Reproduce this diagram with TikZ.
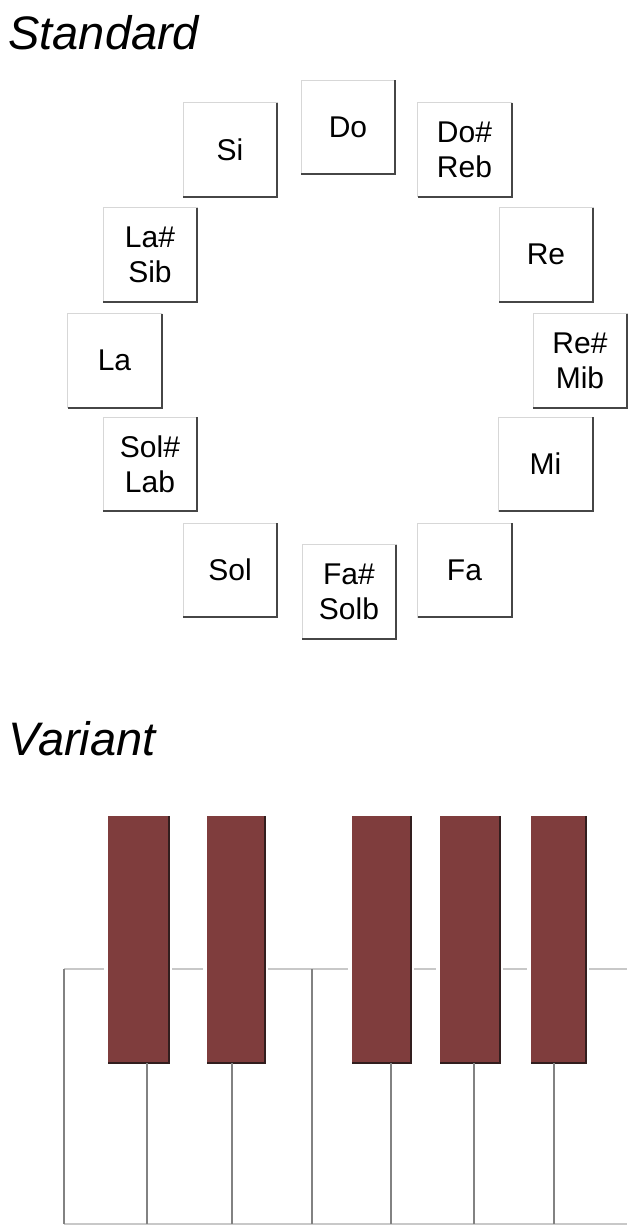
\documentclass[tikz,border=0pt]{standalone}
\usepackage{fontspec}
\setmainfont{Liberation Sans}
\usepackage{tikz}
\definecolor{btnlight}{RGB}{215,215,215}
\definecolor{btndark}{RGB}{70,70,70}
\definecolor{keyred}{RGB}{127,61,61}
\definecolor{keyedge}{RGB}{50,30,30}
\definecolor{keyline}{RGB}{130,130,130}
\definecolor{rimline}{RGB}{200,200,200}
\newcommand{\drawrim}{\draw[rimline, line width=0.6pt]}
\newcommand{\drawsplit}{\draw[keyline, line width=1.2pt]}
\tikzset{
  notebtn/.style={draw=btnlight, line width=0.5pt, fill=white, inner sep=0pt, outer sep=0pt,
    minimum width=47pt, minimum height=47pt, align=center,
    font=\fontsize{15}{17.5}\selectfont},
  btnshade/.style={btndark, line width=1pt},
  heading/.style={anchor=base west, inner sep=0pt, font=\fontsize{23.5}{28}\selectfont\itshape}
}

\begin{document}
\begin{tikzpicture}[x=0.5pt, y=-0.5pt]
\useasboundingbox (0,0) rectangle (627,1226);
\node[heading] (std) at (8,49) {Standard};
\node[heading] (var) at (8,755) {Variant};
% circle of notes
\foreach \n/\x/\y/\t in {do/348/127/Do, dos/464.5/149.5/{Do\#\\Reb}, re/546/254.5/Re,
    res/580/360.5/{Re\#\\Mib}, mi/545.5/464/Mi, fa/464.5/570/Fa, fas/349/591.5/{Fa\#\\Solb},
    sol/230/570/Sol, sols/150/464/{Sol\#\\Lab}, la/114.5/360.5/La, las/150/254.5/{La\#\\Sib},
    si/230/149.5/Si}{
  \node[notebtn] (\n) at (\x,\y) {\t};
  \draw[btnshade] (\n.north east) -- (\n.south east) -- (\n.south west);
}
% keyboard
\drawrim (64,969)--(104,969);
\drawrim (172,969)--(203,969);
\drawrim (268,969)--(348,969);
\drawrim (414,969)--(436,969);
\drawrim (503,969)--(527,969);
\drawrim (589,969)--(627,969);
\drawrim (64,1224)--(627,1224);
\drawsplit (64,969)--(64,1224);
\drawsplit (312,969)--(312,1224);
\foreach \a/\b in {108/169, 207/265, 352/411, 440/500, 531/586}{
  \fill[keyred] (\a,816) rectangle (\b,1063);
  \draw[keyedge, line width=0.8pt] (\b,816) -- (\b,1063) -- (\a,1063);
}
\foreach \x in {147,232,391,474,554}{
  \drawsplit (\x,1063)--(\x,1224);
}
\end{tikzpicture}
\end{document}
